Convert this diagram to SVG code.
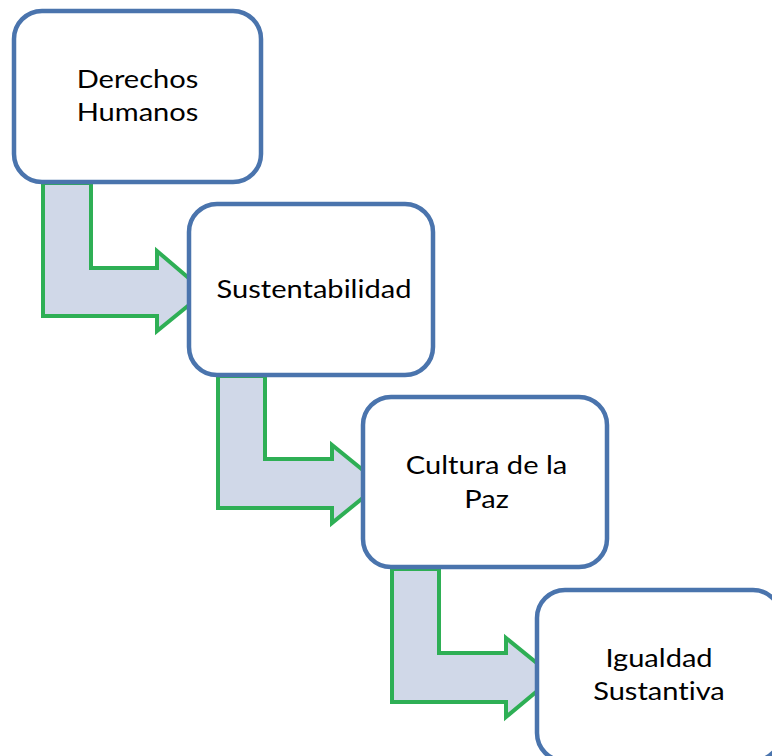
<svg xmlns="http://www.w3.org/2000/svg" width="772" height="756" viewBox="0 0 772 756">
<style>
.box{fill:#FFFFFF;stroke:#4A74AD;stroke-width:4.5}
.arrow{fill:#D0D8E8;stroke:#2EAF55;stroke-width:4;stroke-linejoin:miter}
.lbl{font-family:Lato,"Open Sans","Liberation Sans",sans-serif;font-size:25.5px;fill:#000000;text-anchor:middle;font-variant-ligatures:none;font-feature-settings:"liga" 0,"clig" 0}
</style>
<rect width="772" height="756" fill="#FFFFFF"/>
<g id="connectors">
<path class="arrow" d="M43,183 V316 H157 V331 L205,292 L157,251 V268 H91 V183 Z"/>
<path class="arrow" d="M218,376 V508 H332 V523 L380,484 L332,445 V459 H265 V376 Z"/>
<path class="arrow" d="M392,569 V702 H506 V717 L554,677 L506,638 V653 H439 V569 Z"/>
</g>
<g id="node-derechos">
<rect class="box" x="14" y="11" width="247" height="171" rx="28"/>
<g transform="matrix(1.14 0 0 1 137.5 0)">
<text class="lbl" x="0" y="88.3">Derechos</text>
<text class="lbl" x="0" y="121">Humanos</text>
</g>
</g>
<g id="node-sustentabilidad">
<rect class="box" x="189" y="204" width="244" height="171" rx="28"/>
<g transform="matrix(1.14 0 0 1 314 0)">
<text class="lbl" x="0" y="298.3">Sustentabilidad</text>
</g>
</g>
<g id="node-cultura">
<rect class="box" x="363" y="397" width="244" height="170" rx="28"/>
<g transform="matrix(1.14 0 0 1 486.5 0)">
<text class="lbl" x="0" y="474.3">Cultura de la</text>
<text class="lbl" x="0" y="508.3">Paz</text>
</g>
</g>
<g id="node-igualdad">
<rect class="box" x="537" y="590" width="244" height="171" rx="28"/>
<g transform="matrix(1.14 0 0 1 659 0)">
<text class="lbl" x="0" y="666.7">Igualdad</text>
<text class="lbl" x="0" y="700">Sustantiva</text>
</g>
</g>
</svg>
